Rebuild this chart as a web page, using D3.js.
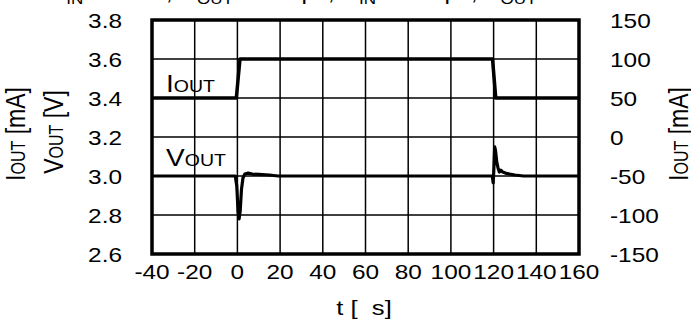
<!DOCTYPE html>
<html>
<head>
<meta charset="utf-8">
<script src="https://cdn.jsdelivr.net/npm/d3@7"></script>
<style>
body { margin: 0; background: #fff; }
svg { display: block; }
text { font-family: "Liberation Sans", Arial, sans-serif; fill: #000; white-space: pre; }
</style>
</head>
<body>
<script>
// tick values for the three axes
var tTicks = [-40, -20, 0, 20, 40, 60, 80, 100, 120, 140, 160];   // t [µs]
var vTicks = [2.6, 2.8, 3.0, 3.2, 3.4, 3.6, 3.8];                  // VOUT [V]
var iTicks = [-150, -100, -50, 0, 50, 100, 150];                   // IOUT [mA]

// IOUT load step (mA)
var iTime = [-40, -0.5, 1.2, 119.5, 121, 160];
var iOut  = [50, 50, 100, 100, 50, 50];

// VOUT response (V)
var vTime = [-40, -1, -0.3, 0.3, 0.8, 1.3, 1.9, 2.6, 3.5, 5, 7, 10, 15, 19,
             119.4, 119.8, 120.1, 120.5, 120.9, 121.5, 122.1, 122.7, 123.4, 124.3, 125.5, 127.5, 130, 134, 160];
var vOut  = [3.0, 3.0, 2.95, 2.82, 2.78, 2.82, 2.93, 2.99, 3.01, 3.015, 3.01, 3.008, 3.005, 3.0,
             3.0, 2.965, 3.03, 3.15, 3.13, 3.07, 3.04, 3.02, 3.03, 3.02, 3.015, 3.01, 3.005, 3.0, 3.0];

var W = 691, H = 326;
var pLeft = 152, pRight = 579, pTop = 20, pBottom = 254;
var SX = 1.22; // the lettering in the original is a bit wide

var svg = d3.select("body").append("svg")
  .attr("width", W)
  .attr("height", H);

var x = d3.scaleLinear().domain([-40, 160]).range([pLeft, pRight]);
var yV = d3.scaleLinear().domain([2.6, 3.8]).range([pBottom, pTop]);
var yI = d3.scaleLinear().domain([-150, 150]).range([pBottom, pTop]);

// writes a (possibly rotated) text made of [string, size, dy] parts
function label(px, py, anchor, parts, rot) {
  var tr = "translate(" + px + "," + py + ")" + (rot ? " rotate(-90) scale(1," + SX + ")" : " scale(" + SX + ",1)");
  var t = svg.append("text")
    .attr("transform", tr)
    .attr("text-anchor", anchor);
  parts.forEach(function(p) {
    t.append("tspan")
      .attr("font-size", p[1])
      .attr("dy", p[2] || 0)
      .text(p[0]);
  });
  return t;
}

// clipped caption line at the very top
label(50, 0, "start", [["V", 20], ["IN", 14, 4], [" = 3.6 V, C", 20, -4], ["OUT", 14, 4], [" = 1.0 \u00b5F, C", 20, -4],
  ["IN", 14, 4], [" = 1.0 \u00b5F, V", 20, -4], ["OUT", 14, 4], [" = 3.0 V", 20, -4]]);

// grid
svg.append("g").selectAll("line")
  .data(tTicks)
  .join("line")
  .attr("x1", function(d) { return x(d); })
  .attr("x2", function(d) { return x(d); })
  .attr("y1", pTop)
  .attr("y2", pBottom)
  .attr("stroke", "#000")
  .attr("stroke-width", 1.5);

svg.append("g").selectAll("line")
  .data(vTicks)
  .join("line")
  .attr("x1", pLeft)
  .attr("x2", pRight)
  .attr("y1", function(d) { return yV(d); })
  .attr("y2", function(d) { return yV(d); })
  .attr("stroke", "#000")
  .attr("stroke-width", 1.5);

// data lines
var iLine = d3.line()
  .x(function(d, k) { return x(iTime[k]); })
  .y(function(d) { return yI(d); });

var vLine = d3.line()
  .x(function(d, k) { return x(vTime[k]); })
  .y(function(d) { return yV(d); });

svg.append("path")
  .attr("d", iLine(iOut))
  .attr("fill", "none")
  .attr("stroke", "#000")
  .attr("stroke-width", 3.5)
  .attr("stroke-linejoin", "round");

svg.append("path")
  .attr("d", vLine(vOut))
  .attr("fill", "none")
  .attr("stroke", "#000")
  .attr("stroke-width", 3.2)
  .attr("stroke-linejoin", "round");

// frame
svg.append("rect")
  .attr("x", pLeft)
  .attr("y", pTop)
  .attr("width", pRight - pLeft)
  .attr("height", pBottom - pTop)
  .attr("fill", "none")
  .attr("stroke", "#000")
  .attr("stroke-width", 3.5);

// tick labels
vTicks.forEach(function(d) {
  label(122, yV(d) + 7.5, "end", [[d.toFixed(1), 20]]);
});
iTicks.forEach(function(d) {
  label(610, yI(d) + 7.5, "start", [[String(d), 20]]);
});
tTicks.forEach(function(d) {
  label(x(d), 279, "middle", [[String(d), 20]]);
});

// series names inside the plot
label(166, 92, "start", [["I", 23], ["OUT", 16]]);
label(166, 166, "start", [["V", 23], ["OUT", 16]]);

// axis titles
label(25, 134, "middle", [["I", 23], ["OUT", 16], [" [mA]", 23]], true);
label(63, 132, "middle", [["V", 23], ["OUT", 16], [" [V]", 23]], true);
label(688, 134, "middle", [["I", 23], ["OUT", 16], [" [mA]", 23]], true);
label(364, 315, "middle", [["t [  s]", 21]]);
</script>
</body>
</html>
